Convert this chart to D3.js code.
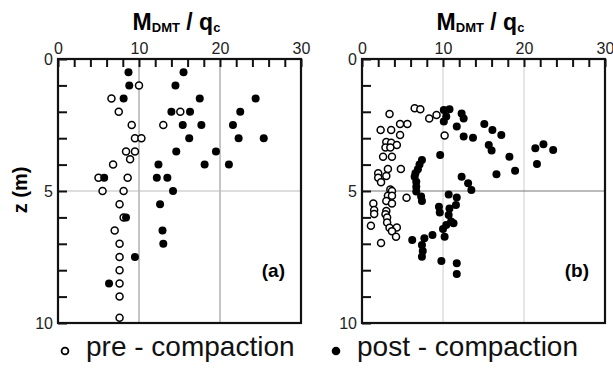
<!DOCTYPE html>
<html>
<head>
<meta charset="utf-8">
<script src="https://cdn.jsdelivr.net/npm/d3@7"></script>
<style>
  body { margin: 0; background: #fff; }
  svg { font-family: "Liberation Sans", Arial, sans-serif; }
</style>
</head>
<body>
<svg width="613" height="368"></svg>
<script>
// data: [M_DMT/qc, z (m)]
var preA = [[10.0,1.0],[6.6,1.5],[7.5,2.0],[15.1,2.0],[9.1,2.5],[13.0,2.5],[9.5,3.0],[10.3,3.0],
  [8.4,3.5],[9.5,3.5],[8.9,3.8],[6.8,4.0],[5.0,4.5],[8.6,4.5],[5.5,5.0],[8.1,5.0],[7.6,5.5],
  [8.1,6.0],[7.0,6.5],[7.6,7.0],[7.6,7.5],[7.6,8.0],[7.6,8.5],[7.6,9.0],[7.6,9.8]];
var postA = [[8.7,0.5],[15.5,0.5],[8.8,1.0],[14.5,1.0],[8.1,1.5],[17.5,1.5],[24.4,1.5],[14.0,2.0],
  [16.3,2.0],[22.5,2.0],[15.4,2.5],[17.7,2.5],[21.6,2.5],[16.2,3.0],[22.3,3.0],[25.4,3.0],
  [14.6,3.5],[19.5,3.5],[12.4,4.0],[18.1,4.0],[21.1,4.0],[5.7,4.5],[12.2,4.5],[13.5,4.5],
  [14.2,5.0],[12.6,5.5],[8.4,6.0],[12.9,6.5],[13.0,7.0],[9.5,7.5],[6.3,8.5]];
var preB = [[3.4,2.08],[6.5,1.87],[7.2,1.9],[8.3,2.25],[9.2,2.12],[2.3,2.69],[3.6,2.69],[4.7,2.46],
  [5.6,2.46],[4.7,2.88],[10.2,2.9],[3.0,3.14],[3.6,3.17],[4.3,3.26],[2.9,3.35],[3.5,3.35],
  [2.6,3.7],[3.7,3.7],[3.2,4.17],[4.8,4.17],[2.0,4.33],[2.0,4.5],[3.0,4.43],[2.35,4.67],
  [3.5,4.94],[3.7,5.0],[3.2,5.18],[3.7,5.18],[5.5,5.26],[3.0,5.38],[3.7,5.47],[1.4,5.47],
  [1.5,5.72],[1.5,5.87],[3.0,5.76],[2.9,5.88],[3.1,6.0],[1.1,6.32],[3.1,6.19],[3.4,6.39],
  [4.3,6.38],[3.7,6.52],[4.2,6.73],[2.35,6.97]];
var postB = [[10.1,1.93],[10.8,1.9],[10.4,2.18],[10.1,2.37],[12.3,2.06],[12.55,2.25],[11.7,2.56],
  [12.55,2.94],[13.7,2.98],[15.1,2.46],[16.1,2.69],[17.2,2.88],[15.65,3.26],[16.0,3.47],
  [18.2,3.7],[18.9,4.23],[16.6,4.37],[9.65,3.64],[21.4,3.38],[22.4,3.23],[23.6,3.45],[21.6,3.98],
  [12.3,4.46],[13.1,4.71],[13.5,4.96],[7.4,3.83],[7.1,4.0],[6.9,4.18],[6.6,4.33],[6.5,4.46],
  [6.7,4.65],[6.7,4.84],[6.7,5.02],[7.3,5.21],[7.4,5.38],[10.7,5.13],[11.7,5.25],[11.6,5.53],
  [9.5,5.6],[9.6,5.81],[10.8,5.66],[10.7,5.91],[11.0,6.16],[11.3,6.22],[10.4,6.29],[10.0,6.44],
  [10.2,6.73],[6.2,6.86],[7.7,6.79],[8.7,6.67],[7.4,7.05],[7.5,7.27],[7.4,7.49],[9.8,7.65],
  [11.7,7.74],[11.7,8.14]];
var xTicks = [0, 10, 20, 30];
var zTicks = [0, 5, 10];
var panels = [
  {label: "(a)", left: 58, pre: preA, post: postA, vGrid: "#8a8a8a", hGrid: "#bbbbbb"},
  {label: "(b)", left: 362, pre: preB, post: postB, vGrid: "#cccccc", hGrid: "#777777"}
];

var svg = d3.select("svg");
var plotTop = 59, w = 243, h = 264;

var x = d3.scaleLinear().domain([0, 30]).range([0, w]);
var y = d3.scaleLinear().domain([0, 10]).range([0, h]);

panels.forEach(function(p) {
  var g = svg.append("g").attr("transform", "translate(" + p.left + "," + plotTop + ")");

  // grid
  g.selectAll(".vgrid").data([10, 20]).enter().append("line")
      .attr("x1", x).attr("x2", x).attr("y1", 0).attr("y2", h)
      .attr("stroke", p.vGrid).attr("stroke-width", 1);
  g.append("line")
      .attr("x1", 0).attr("x2", w).attr("y1", y(5)).attr("y2", y(5))
      .attr("stroke", p.hGrid).attr("stroke-width", 1);

  // top axis, ticks pointing inward
  var ax = g.append("g").call(d3.axisTop(x)
      .tickValues(d3.range(0, 31, 2))
      .tickSizeInner(-8).tickSizeOuter(0).tickPadding(4)
      .tickFormat(function(d) { return xTicks.indexOf(d) >= 0 ? d : ""; }));
  // left axis
  var ay = g.append("g").call(d3.axisLeft(y)
      .tickValues(d3.range(0, 11, 1))
      .tickSizeInner(-9).tickSizeOuter(0).tickPadding(5)
      .tickFormat(function(d) { return zTicks.indexOf(d) >= 0 ? d : ""; }));
  [ax, ay].forEach(function(a) {
    a.select(".domain").remove();
    a.selectAll("line").attr("stroke", "#111").attr("stroke-width", 2);
    a.selectAll("text").attr("font-size", 16).attr("fill", "#222")
      .attr("font-family", "'Liberation Sans', Arial, sans-serif");
  });
  ax.selectAll("text").attr("dy", null).attr("y", -5);

  // frame
  g.append("rect").attr("width", w).attr("height", h)
      .attr("fill", "none").attr("stroke", "#111").attr("stroke-width", 2.2);

  g.selectAll(".pre").data(p.pre).enter().append("circle")
      .attr("cx", function(d) { return x(d[0]); })
      .attr("cy", function(d) { return y(d[1]); })
      .attr("r", 3.5).attr("fill", "#fff").attr("stroke", "#000").attr("stroke-width", 1.5);
  g.selectAll(".post").data(p.post).enter().append("circle")
      .attr("cx", function(d) { return x(d[0]); })
      .attr("cy", function(d) { return y(d[1]); })
      .attr("r", 4).attr("fill", "#000");

  g.append("text").attr("x", w - 16).attr("y", 218).attr("text-anchor", "end")
      .attr("font-size", 19).attr("font-weight", "bold").text(p.label);

  var t = svg.append("text").attr("x", p.left + w / 2 - 3).attr("y", 30)
      .attr("text-anchor", "middle").attr("font-weight", "bold").attr("font-size", 23);
  t.append("tspan").text("M");
  t.append("tspan").attr("font-size", 13).attr("dy", 2).text("DMT");
  t.append("tspan").attr("dy", -2).text(" / q");
  t.append("tspan").attr("font-size", 13).attr("dy", 2).text("c");
});

svg.append("text").attr("transform", "translate(27,190) rotate(-90)")
    .attr("text-anchor", "middle").attr("font-weight", "bold").attr("font-size", 20)
    .text("z (m)");

// legend
var legend = [
  {x: 65, text: "pre - compaction", fill: "#fff"},
  {x: 336, text: "post - compaction", fill: "#000"}
];
legend.forEach(function(l) {
  svg.append("circle").attr("cx", l.x).attr("cy", 351).attr("r", 3.4)
      .attr("fill", l.fill).attr("stroke", "#000").attr("stroke-width", 1.8);
  svg.append("text").attr("x", l.x + 21).attr("y", 356).attr("font-size", 28)
      .attr("fill", "#111").text(l.text);
});
</script>
</body>
</html>
